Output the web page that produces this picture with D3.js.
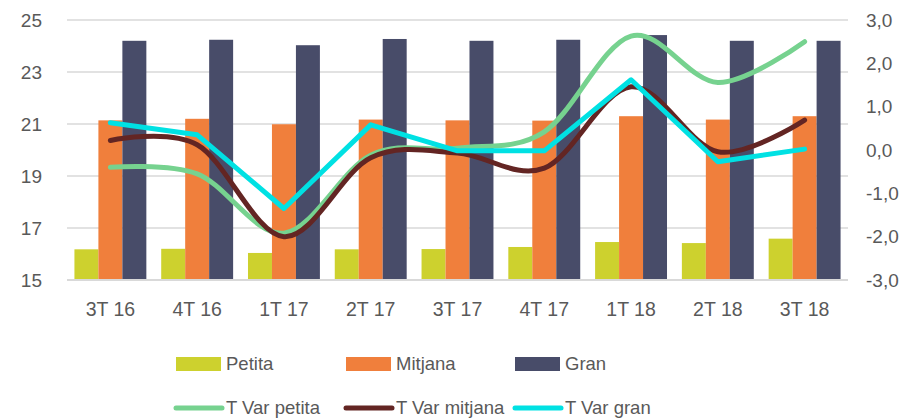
<!DOCTYPE html>
<html>
<head>
<meta charset="utf-8">
<script src="https://cdn.jsdelivr.net/npm/d3@7"></script>
<style>
  html, body { margin: 0; padding: 0; background: #fff; }
  svg { display: block; font-family: "Liberation Sans", Arial, sans-serif; }
</style>
</head>
<body>
<div id="chart"></div>
<script>
/* Bar + smoothed line combo: sizes by quarter (left) and year-on-year change (right). */
const quarters = ["3T 16", "4T 16", "1T 17", "2T 17", "3T 17", "4T 17", "1T 18", "2T 18", "3T 18"];
const petita  = [16.18, 16.20, 16.04, 16.18, 16.19, 16.27, 16.46, 16.42, 16.59];
const mitjana = [21.14, 21.20, 20.99, 21.17, 21.14, 21.13, 21.30, 21.17, 21.30];
const gran    = [24.20, 24.24, 24.03, 24.27, 24.20, 24.24, 24.42, 24.20, 24.20];
const varPetita  = [-0.40, -0.55, -1.92, -0.12, 0.04, 0.42, 2.63, 1.56, 2.50];
const varMitjana = [0.22, 0.12, -2.00, -0.18, -0.07, -0.42, 1.46, -0.04, 0.69];
const varGran    = [0.63, 0.35, -1.35, 0.58, -0.02, -0.02, 1.62, -0.27, 0.02];
const leftTicks  = [15, 17, 19, 21, 23, 25];
const rightTicks = [-3, -2, -1, 0, 1, 2, 3];

const barSeries = [
  { name: "Petita", values: petita, color: "#CDD12E" },
  { name: "Mitjana", values: mitjana, color: "#F07F3C" },
  { name: "Gran", values: gran, color: "#484C69" }
];
const lineSeries = [
  { name: "T Var petita", values: varPetita, color: "#76D28F", curve: d3.curveCardinal.tension(0) },
  { name: "T Var mitjana", values: varMitjana, color: "#632523", curve: d3.curveCardinal.tension(0) },
  { name: "T Var gran", values: varGran, color: "#00E1E3", curve: d3.curveLinear }
];

const W = 905, Ht = 419;
const m = { t: 20, r: 57, b: 139, l: 67 };
const txt = "#595959", grid = "#D9D9D9";

const svg = d3.select("#chart").append("svg").attr("width", W).attr("height", Ht);

const x = d3.scaleBand().domain(quarters).range([m.l, W - m.r]).paddingInner(0).paddingOuter(0);
const xb = d3.scaleBand().domain(barSeries.map(s => s.name))
  .range([0, x.bandwidth()]).paddingInner(0).paddingOuter(0.31);
const yL = d3.scaleLinear().domain([15, 25]).range([Ht - m.b, m.t]);
const yR = d3.scaleLinear().domain([-3, 3]).range([Ht - m.b, m.t]);

// gridlines
svg.append("g").selectAll("line").data(leftTicks).join("line")
  .attr("x1", m.l).attr("x2", W - m.r)
  .attr("y1", d => yL(d)).attr("y2", d => yL(d))
  .attr("stroke", grid).attr("stroke-width", d => d === 15 ? 2 : 1.5);

// left axis labels
svg.append("g").selectAll("text").data(leftTicks).join("text")
  .attr("x", 42).attr("y", d => yL(d)).attr("dy", "0.35em")
  .attr("text-anchor", "end").attr("fill", txt).style("font-size", "19px")
  .text(d => d);

// right axis labels
const fmtR = d => d3.format(".1f")(d).replace(".", ",").replace("−", "-");
svg.append("g").selectAll("text").data(rightTicks).join("text")
  .attr("x", 866).attr("y", d => yR(d)).attr("dy", "0.35em")
  .attr("text-anchor", "start").attr("fill", txt).style("font-size", "19px")
  .text(fmtR);

// x labels
svg.append("g").selectAll("text").data(quarters).join("text")
  .attr("x", d => x(d) + x.bandwidth() / 2).attr("y", 309).attr("dy", "0.35em")
  .attr("text-anchor", "middle").attr("fill", txt).style("font-size", "19.5px")
  .text(d => d);

// bars
svg.append("g").selectAll("g").data(barSeries).join("g")
  .attr("fill", s => s.color)
  .each(function (s) {
    d3.select(this).selectAll("rect").data(s.values).join("rect")
      .attr("x", (v, i) => x(quarters[i]) + xb(s.name))
      .attr("width", xb.bandwidth())
      .attr("y", v => yL(v))
      .attr("height", v => yL(15) - yL(v) - 1);
  });

// lines
const cx = i => x(quarters[i]) + x.bandwidth() / 2;
lineSeries.forEach(s => {
  const line = d3.line().x((v, i) => cx(i)).y(v => yR(v)).curve(s.curve);
  svg.append("path").datum(s.values)
    .attr("d", line).attr("fill", "none")
    .attr("stroke", s.color).attr("stroke-width", 5)
    .attr("stroke-linecap", "round").attr("stroke-linejoin", "round");
});

// legend
const lg = svg.append("g").style("font-size", "18.5px").attr("fill", txt);
const legX = [176, 346, 515];
barSeries.forEach((s, i) => {
  lg.append("rect").attr("x", legX[i]).attr("y", 357).attr("width", 45).attr("height", 14).attr("fill", s.color);
  lg.append("text").attr("x", legX[i] + 50).attr("y", 364).attr("dy", "0.35em").text(s.name);
});
lineSeries.forEach((s, i) => {
  lg.append("line").attr("x1", legX[i]).attr("x2", legX[i] + 46).attr("y1", 408).attr("y2", 408)
    .attr("stroke", s.color).attr("stroke-width", 5).attr("stroke-linecap", "round");
  lg.append("text").attr("x", legX[i] + 50).attr("y", 408).attr("dy", "0.35em").text(s.name);
});
</script>
</body>
</html>
